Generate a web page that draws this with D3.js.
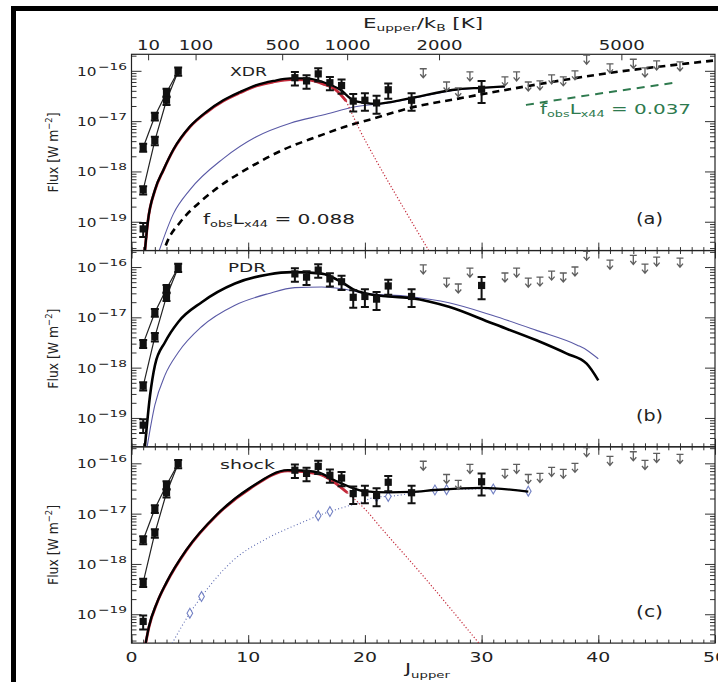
<!DOCTYPE html>
<html>
<head>
<meta charset="utf-8">
<script src="https://cdn.jsdelivr.net/npm/d3@7"></script>
<style>
  body { margin: 0; background: #fff; }
  svg { display: block; }
  text { font-family: "DejaVu Sans", "Liberation Sans", sans-serif; fill: #222; }
</style>
</head>
<body>
<svg id="chart" width="718" height="682"></svg>
<script>
// ---------------- data ----------------
// CO rotational ladder, observed line fluxes [W m^-2]
const obsJ    = [1, 1, 1, 2, 2, 3, 3, 4, 14, 15, 16, 17, 18, 19, 20, 21, 22, 24, 30];
const obsFlux = [3.0e-18, 4.3e-19, 7.2e-20, 1.25e-17, 4.1e-18, 3.7e-17, 2.6e-17, 9.8e-17,
                 7.3e-17, 6.3e-17, 8.7e-17, 5.8e-17, 5.1e-17, 2.5e-17, 2.6e-17, 2.3e-17, 4.2e-17, 2.6e-17, 4.3e-17];
const obsErr  = [0.55e-18, 0.8e-19, 2.2e-20, 2.2e-18, 0.8e-18, 0.7e-17, 0.5e-17, 1.8e-17,
                 2.2e-17, 1.9e-17, 2.6e-17, 1.7e-17, 1.6e-17, 0.95e-17, 1.0e-17, 0.9e-17, 1.4e-17, 1.0e-17, 2.0e-17];

// low-J ladders joined by lines
const lowLineJ     = [1, 2, 3, 4];
const lowLineUpper = [3.0e-18, 1.25e-17, 3.7e-17, 9.8e-17];
const lowLineLower = [4.3e-19, 4.1e-18, 2.6e-17, 9.8e-17];

// upper limits
const ulJ    = [25, 27, 28, 29, 32, 33, 34, 35, 36, 37, 38, 39, 41, 43, 44, 45, 47];
const ulFlux = [1.1e-16, 6.0e-17, 4.6e-17, 9.5e-17, 7.6e-17, 9.5e-17, 6.0e-17, 6.3e-17, 8.3e-17,
                7.6e-17, 1.0e-16, 2.05e-16, 1.37e-16, 1.7e-16, 1.14e-16, 1.57e-16, 1.5e-16];

// (a) XDR models
const xdrColdJ = [1.1, 1.4, 2.01, 2.73, 3.58, 5.0, 6.44, 7.86, 9.3, 10.7, 12.15, 13.6, 15, 16.4, 17.6, 18.4];
const xdrColdF = [2.0e-20, 1.0e-19, 4.2e-19, 1.05e-18, 2.65e-18, 7.6e-18, 1.5e-17, 2.5e-17, 3.65e-17,
                  5.0e-17, 6.0e-17, 6.7e-17, 6.6e-17, 5.5e-17, 4.0e-17, 2.5e-17];
const xdrColdTailJ = [18.4, 19.5, 21, 23, 25.8];
const xdrColdTailF = [2.5e-17, 7.1e-18, 1.6e-18, 2.5e-19, 2.0e-20];
const xdrWarmJ = [2.25, 3.6, 5.0, 7.86, 10.7, 13.6, 16.4, 19.3, 22, 24, 28, 32];
const xdrWarmF = [2.2e-20, 1.45e-19, 4.3e-19, 1.8e-18, 4.9e-18, 9.1e-18, 1.32e-17, 1.95e-17,
                  2.3e-17, 2.8e-17, 4.2e-17, 4.8e-17];
const xdrSumJ = [1.1, 1.4, 2.01, 2.73, 3.58, 5.0, 6.44, 7.86, 9.3, 10.7, 12.15, 13.6, 15, 16.4, 17.9,
                 19, 20, 21, 22, 24, 28, 30, 32];
const xdrSumF = [2.0e-20, 1.0e-19, 4.3e-19, 1.07e-18, 2.7e-18, 7.8e-18, 1.55e-17, 2.6e-17, 3.8e-17,
                 5.2e-17, 6.3e-17, 7.1e-17, 7.1e-17, 6.0e-17, 4.2e-17, 2.6e-17, 2.3e-17, 2.2e-17,
                 2.35e-17, 2.9e-17, 4.3e-17, 4.6e-17, 4.9e-17];
const xdrHighJ = [2.6, 3.0, 4.2, 5.9, 7.3, 10.2, 13.0, 15.9, 18.7, 20.4, 24, 28, 34, 41, 48.2, 50.5];
const xdrHighF = [2.0e-20, 3.7e-20, 1.0e-19, 2.5e-19, 4.6e-19, 1.23e-18, 2.7e-18, 4.9e-18, 8.3e-18,
                  1.07e-17, 1.86e-17, 2.8e-17, 5.0e-17, 9.1e-17, 1.45e-16, 1.66e-16];
const xdrLowLxJ = [33.8, 40, 46.8];
const xdrLowLxF = [2.1e-17, 3.5e-17, 5.9e-17];

// (b) PDR models
const pdrSumJ = [1.1, 1.59, 2.01, 2.87, 4.01, 6.02, 8.87, 11.72, 13.73, 16.3, 18, 19, 20, 22, 24, 27.2, 30.9, 34.7, 37.3, 39, 40];
const pdrSumF = [2.0e-20, 2.8e-19, 1.12e-18, 3.2e-18, 8.1e-18, 2.0e-17, 4.7e-17, 7.1e-17, 7.9e-17, 7.4e-17,
                 5.0e-17, 3.6e-17, 3.0e-17, 2.6e-17, 2.4e-17, 1.62e-17, 7.6e-18, 3.5e-18, 1.9e-18, 1.2e-18, 5.6e-19];
const pdrWarmJ = [1.25, 2.0, 2.87, 4.0, 6.0, 8.87, 11.7, 14, 16.3, 18, 20, 23.8, 27.2, 30.9, 34.7, 38.2, 39, 40];
const pdrWarmF = [2.0e-20, 1.8e-19, 7.1e-19, 2.0e-18, 6.5e-18, 1.74e-17, 2.95e-17, 3.9e-17, 4.0e-17, 3.7e-17,
                  3.0e-17, 2.6e-17, 1.95e-17, 1.1e-17, 5.5e-18, 2.8e-18, 2.25e-18, 1.5e-18];

// (c) shock models
const shockColdJ = [1.12, 1.5, 2.16, 3, 4.7, 7.3, 10.2, 13.4, 16, 17.3, 18.5];
const shockColdF = [2.0e-20, 5.6e-20, 1.62e-19, 4.2e-19, 1.86e-18, 9.3e-18, 3.2e-17, 7.1e-17, 6.2e-17, 4.3e-17, 2.6e-17];
const shockColdTailJ = [18.5, 20.2, 21.3, 24.8, 30.2];
const shockColdTailF = [2.6e-17, 1.1e-17, 5.5e-18, 6.5e-19, 2.0e-20];
const shockSumJ = [1.12, 1.5, 2.16, 3, 4.7, 7.3, 10.2, 13.4, 14.5, 16, 17.3, 18.7, 19.9, 22, 24, 26, 30, 34];
const shockSumF = [2.0e-20, 5.8e-20, 1.65e-19, 4.3e-19, 1.9e-18, 9.5e-18, 3.3e-17, 7.3e-17, 7.2e-17, 6.6e-17,
                   4.7e-17, 3.4e-17, 2.8e-17, 2.65e-17, 2.7e-17, 2.95e-17, 3.25e-17, 2.75e-17];
const shockModelJ = [3.2, 5, 6, 8.7, 11.6, 14.5, 16, 17, 19.7, 21, 22, 26, 27, 31, 34];
const shockModelF = [2.0e-20, 1.05e-19, 2.25e-19, 1.17e-18, 3.2e-18, 6.5e-18, 9.1e-18, 1.1e-17, 1.7e-17,
                     2.15e-17, 2.2e-17, 2.95e-17, 3.0e-17, 3.1e-17, 2.8e-17];
const shockPointJ = [5, 6, 16, 17, 21, 22, 26, 27, 31, 34];
const shockPointF = [1.05e-19, 2.25e-19, 9.1e-18, 1.1e-17, 2.15e-17, 2.2e-17, 2.95e-17, 3.0e-17, 3.1e-17, 2.8e-17];

// axis ticks and labels
const xTicks = [0, 10, 20, 30, 40, 50];
const eTicks = [10, 100, 500, 1000, 2000, 5000];
const yTickExps = [-19, -18, -17, -16];
const panelNames = ["XDR", "PDR", "shock"];
const panelTags = ["(a)", "(b)", "(c)"];

// ---------------- layout ----------------
const svg = d3.select("#chart");
const plotLeft = 131.5, plotRight = 715, panelH = 196.3;
const panelTops = [54.3, 250.5, 446.8];
const yDomain = [2.67e-20, 2.13e-16];
const B_CO = 2.766; // rotational constant [K]
const jOfE = E => (-1 + Math.sqrt(1 + 4 * E / B_CO)) / 2;

const x = d3.scaleLinear().domain([0, 50]).range([plotLeft, plotRight]);

const RED = "#c42a3a", BLUE = "#5a5aa6", GREEN = "#2e7a4e", GREY = "#5e5e5e";

// outer frame
svg.append("rect").attr("x", 13.5).attr("y", 8.5).attr("width", 900).attr("height", 900)
  .attr("fill", "none").attr("stroke", "#000").attr("stroke-width", 5);

const defs = svg.append("defs");

function mkLine(y) {
  return d3.line().x(d => x(d[0])).y(d => y(d[1])).curve(d3.curveMonotoneX);
}

// text with sub/superscripts; shifts use relative dy so the run stays one chunk
function rich(g, x0, y0, parts, width, anchor) {
  const t = g.append("text").attr("x", x0).attr("y", y0);
  if (anchor) t.attr("text-anchor", anchor);
  let shift = 0;
  parts.forEach(p => {
    const s = t.append("tspan").text(p.t).attr("font-size", p.size || 14);
    const target = p.dy || 0;
    if (target !== shift) { s.attr("dy", target - shift); shift = target; }
  });
  if (width) t.attr("textLength", width).attr("lengthAdjust", "spacingAndGlyphs");
  return t;
}

panelTops.forEach((top, pi) => {
  const g = svg.append("g");
  const y = d3.scaleLog().domain(yDomain).range([top + panelH, top]);
  const line = mkLine(y);

  const clipId = "clip" + pi;
  defs.append("clipPath").attr("id", clipId).append("rect")
    .attr("x", plotLeft).attr("y", top).attr("width", plotRight - plotLeft).attr("height", panelH);

  // ---- axes ----
  const minors = [];
  for (let k = -21; k <= -16; k++) for (let m = 2; m <= 9; m++) {
    const v = m * Math.pow(10, k);
    if (v > yDomain[0] && v < yDomain[1]) minors.push(v);
  }
  const majors = yTickExps.map(e => Math.pow(10, e));
  const axG = g.append("g").attr("stroke-width", 1);
  const addAxis = (axis, tx, ty) => {
    const a = axG.append("g").attr("transform", `translate(${tx},${ty})`).call(axis);
    a.select(".domain").remove();
    a.selectAll("line").attr("stroke", "#333");
    a.selectAll("text").remove();
  };
  addAxis(d3.axisLeft(y).tickValues(majors).tickSize(-10).tickSizeOuter(0), plotLeft, 0);
  addAxis(d3.axisLeft(y).tickValues(minors).tickSize(-5).tickSizeOuter(0), plotLeft, 0);
  addAxis(d3.axisRight(y).tickValues(majors).tickSize(-10).tickSizeOuter(0), plotRight, 0);
  addAxis(d3.axisRight(y).tickValues(minors).tickSize(-5).tickSizeOuter(0), plotRight, 0);
  addAxis(d3.axisBottom(x).tickValues(xTicks).tickSize(-8).tickSizeOuter(0), 0, top + panelH);
  addAxis(d3.axisBottom(x).tickValues(d3.range(0, 51)).tickSize(-3.5).tickSizeOuter(0), 0, top + panelH);
  if (pi > 0) {
    addAxis(d3.axisTop(x).tickValues(xTicks).tickSize(-8).tickSizeOuter(0), 0, top);
    addAxis(d3.axisTop(x).tickValues(d3.range(0, 51)).tickSize(-3.5).tickSizeOuter(0), 0, top);
  } else {
    axG.selectAll(".etick").data(eTicks).join("line")
      .attr("x1", d => x(jOfE(d))).attr("x2", d => x(jOfE(d)))
      .attr("y1", top).attr("y2", top + 6).attr("stroke", "#333");
  }
  g.append("rect").attr("x", plotLeft).attr("y", top).attr("width", plotRight - plotLeft)
    .attr("height", panelH).attr("fill", "none").attr("stroke", "#222").attr("stroke-width", 1.2);

  // y tick labels 10^n
  yTickExps.forEach(e => {
    const yy = y(Math.pow(10, e));
    g.append("text").attr("x", 77).attr("y", yy + 5).attr("font-size", 13)
      .attr("textLength", 19.5).attr("lengthAdjust", "spacingAndGlyphs").text("10");
    g.append("text").attr("x", 98).attr("y", yy - 1).attr("font-size", 9.5)
      .attr("textLength", 29).attr("lengthAdjust", "spacingAndGlyphs").text("\u2212" + (-e));
  });

  // y axis title
  const ty = top + panelH / 2;
  const tt = g.append("g").attr("transform", `translate(58,${ty}) rotate(-90)`);
  rich(tt, -40, 0, [
    { t: "Flux [W m", size: 14 },
    { t: "\u22122", size: 9.5, dy: -6 },
    { t: "]", size: 14 }
  ], 80);

  // ---- model curves ----
  const cg = g.append("g").attr("clip-path", `url(#${clipId})`).attr("fill", "none");
  const draw = (J, F, stroke, width, dash) => {
    const p = cg.append("path").attr("d", line(d3.zip(J, F)))
      .attr("stroke", stroke).attr("stroke-width", width).attr("stroke-linejoin", "round");
    if (dash) p.attr("stroke-dasharray", dash);
    return p;
  };

  if (pi === 0) {
    draw(xdrWarmJ, xdrWarmF, BLUE, 1.1);
    draw(xdrHighJ, xdrHighF, "#000", 2.6, "7,5");
    draw(xdrLowLxJ, xdrLowLxF, GREEN, 2, "8,6");
    draw(xdrColdJ, xdrColdF, RED, 2.8);
    draw(xdrColdTailJ, xdrColdTailF, RED, 1.2, "1.2,2");
    draw(xdrSumJ, xdrSumF, "#000", 2.3);
  } else if (pi === 1) {
    draw(pdrWarmJ, pdrWarmF, BLUE, 1.1);
    draw(pdrSumJ, pdrSumF, "#000", 2.6);
  } else {
    draw(shockModelJ, shockModelF, "#5a68b0", 1.1, "1,2.4");
    draw(shockColdJ, shockColdF, RED, 2.8);
    draw(shockColdTailJ, shockColdTailF, RED, 1.2, "1.2,2");
    cg.selectAll(".dia").data(d3.zip(shockPointJ, shockPointF)).join("path")
      .attr("d", d3.symbol(d3.symbolDiamond, 28))
      .attr("transform", d => `translate(${x(d[0])},${y(d[1])})`)
      .attr("fill", "#fff").attr("stroke", "#7482c4").attr("stroke-width", 1.1);
    draw(shockSumJ, shockSumF, "#000", 2.3);
  }

  // ---- observations ----
  const og = g.append("g");
  [lowLineUpper, lowLineLower].forEach(F => {
    og.append("path").attr("d", d3.line().x(d => x(d[0])).y(d => y(d[1]))(d3.zip(lowLineJ, F)))
      .attr("fill", "none").attr("stroke", "#222").attr("stroke-width", 1.2);
  });
  const obs = d3.zip(obsJ, obsFlux, obsErr);
  og.selectAll(".eb").data(obs).join("path")
    .attr("d", d => {
      const xx = x(d[0]), y1 = y(d[1] + d[2]), y2 = y(d[1] - d[2]);
      return `M${xx},${y1}V${y2}M${xx - 4},${y1}H${xx + 4}M${xx - 4},${y2}H${xx + 4}`;
    })
    .attr("stroke", "#111").attr("stroke-width", 2).attr("fill", "none");
  og.selectAll(".sq").data(obs).join("rect")
    .attr("x", d => x(d[0]) - 3.6).attr("y", d => y(d[1]) - 3.6)
    .attr("width", 7.2).attr("height", 7.2).attr("fill", "#111");

  // upper limits
  og.selectAll(".ul").data(d3.zip(ulJ, ulFlux)).join("path")
    .attr("d", d => {
      const xx = x(d[0]), yy = y(d[1]);
      return `M${xx - 3.5},${yy}H${xx + 3.5}M${xx},${yy}V${yy + 9}M${xx - 3},${yy + 5.5}L${xx},${yy + 9}L${xx + 3},${yy + 5.5}`;
    })
    .attr("fill", "none").attr("stroke", GREY).attr("stroke-width", 1.3);

  // panel labels
  const nameW = [37, 38, 55][pi];
  const nameY = [75.5, 272, 469][pi];
  g.append("text").attr("x", [230, 228, 220][pi]).attr("y", nameY).attr("font-size", 13)
    .attr("textLength", nameW).attr("lengthAdjust", "spacingAndGlyphs").text(panelNames[pi]);
  g.append("text").attr("x", 636).attr("y", top + 170).attr("font-size", 15)
    .attr("textLength", 27).attr("lengthAdjust", "spacingAndGlyphs").text(panelTags[pi]);

  if (pi === 0) {
    rich(g, 203, 224, [
      { t: "f", size: 14 }, { t: "obs", size: 9, dy: 3 }, { t: "L", size: 14 },
      { t: "x44", size: 9, dy: 3 }, { t: " = 0.088", size: 14 }
    ], 152);
    rich(g, 540, 114, [
      { t: "f", size: 14 }, { t: "obs", size: 9, dy: 3 }, { t: "L", size: 14 },
      { t: "x44", size: 9, dy: 3 }, { t: " = 0.037", size: 14 }
    ], 151).style("fill", GREEN).selectAll("tspan").style("fill", GREEN);

    // upper energy axis labels
    g.selectAll(".elab").data(eTicks).join("text")
      .attr("x", d => x(jOfE(d))).attr("y", 50).attr("text-anchor", "middle")
      .attr("font-size", 14).attr("textLength", d => String(d).length * 11.5)
      .attr("lengthAdjust", "spacingAndGlyphs").text(d => d);
    rich(g, 363, 28, [
      { t: "E", size: 14 }, { t: "upper", size: 9, dy: 3 }, { t: "/k", size: 14 },
      { t: "B", size: 9, dy: 3 }, { t: " [K]", size: 14 }
    ], 120);
  }
  if (pi === 2) {
    g.selectAll(".xlab").data(xTicks).join("text")
      .attr("x", d => x(d)).attr("y", 662).attr("text-anchor", "middle")
      .attr("font-size", 14).attr("textLength", d => String(d).length * 12)
      .attr("lengthAdjust", "spacingAndGlyphs").text(d => d);
    rich(g, 405, 673, [
      { t: "J", size: 14 }, { t: "upper", size: 9, dy: 5 }
    ], 45);
  }
});
</script>
</body>
</html>
